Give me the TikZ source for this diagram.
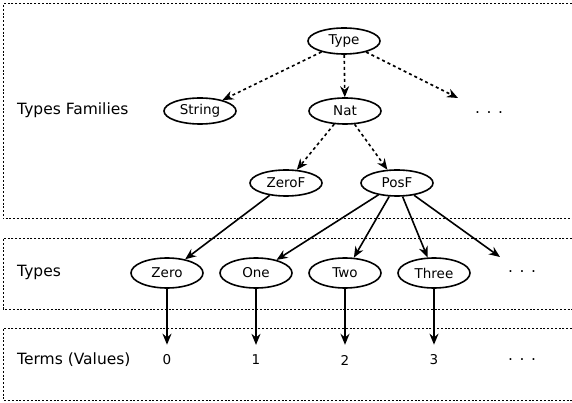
\documentclass[tikz,border=0pt]{standalone}
\usepackage{fontspec}
\setmainfont{DejaVu Sans}
\usetikzlibrary{shapes,arrows.meta,positioning}

\begin{document}
\begin{tikzpicture}[
    x=1pt, y=-1pt,
    fam/.style={ellipse, draw, line width=1.6pt, minimum width=72pt, minimum height=26pt, inner sep=0pt, font=\fontsize{13.5}{15}\selectfont},
    typ/.style={fam, minimum height=30pt},
    val/.style={inner sep=0pt, font=\fontsize{13.5}{15}\selectfont},
    lbl/.style={anchor=west, inner sep=0pt, font=\fontsize{15.5}{18}\selectfont},
    more/.style={inner sep=0pt, font=\fontsize{15.5}{18}\selectfont},
    layer/.style={line width=1pt, dash pattern=on 2pt off 1.8pt},
    arrow/.style={-{Stealth[length=11pt, width=9pt]}, line width=1.6pt},
    darrow/.style={arrow, dash pattern=on 3pt off 3pt},
]
    \useasboundingbox (0,0) rectangle (572,403);
    % layers
    \draw[layer] (572,4) -| (3,219) -- (572,219);
    \draw[layer] (572,238) -| (3,309) -- (572,309);
    \draw[layer] (572,328) -| (3,400) -- (572,400);
    \node[lbl] (LF) at (17,110) {Types Families};
    \node[lbl] (LT) at (17,272) {Types};
    \node[lbl] (LV) at (17,360) {Terms (Values)};
    % type families
    \node[fam] (Ty) at (344,41) {Type};
    \node[fam] (Str) at (200,111) {String};
    \node[fam] (Nat) at (345,111) {Nat};
    \node[more] (M1) at (489,113) {. . .};
    \coordinate (M1a) at (458,98);
    \node[fam] (ZF) at (286,183) {ZeroF};
    \node[fam] (PF) at (397,183) {PosF};
    \draw[darrow] (Ty) -- (Str);
    \draw[darrow] (Ty) -- (Nat);
    \draw[darrow] (Ty) -- (M1a);
    \draw[darrow] (Nat) -- (ZF);
    \draw[darrow] (Nat) -- (PF);
    % types
    \node[typ] (Z) at (167,273) {Zero};
    \node[typ] (O) at (256,273) {One};
    \node[typ] (Tw) at (345,273) {Two};
    \node[typ] (Th) at (434,273) {Three};
    \node[more] (M2) at (522,272) {. . .};
    \coordinate (M2a) at (500,257);
    \draw[arrow] (ZF) -- (Z);
    \foreach \t in {O, Tw, Th, M2a}
        \draw[arrow] (PF) -- (\t);
    % values
    \node[val] (V0) at (167,360) {0};
    \node[val] (V1) at (256,360) {1};
    \node[val] (V2) at (345,360) {2};
    \node[val] (V3) at (434,360) {3};
    \node[more] (M3) at (522,360) {. . .};
    \foreach \t/\v in {Z/V0, O/V1, Tw/V2, Th/V3}
        \draw[arrow, shorten >=10pt] (\t) -- (\v);
\end{tikzpicture}
\end{document}
